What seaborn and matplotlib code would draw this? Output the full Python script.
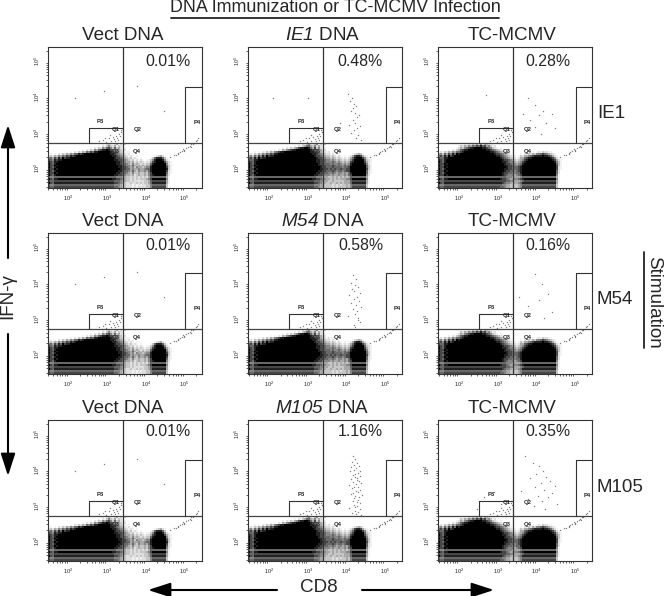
import pandas as pd
import seaborn as sb
import matplotlib
matplotlib.use('Agg')
import matplotlib.pyplot as plt

# density tables, area below the IFN-g gate (0 empty, 9 black)
VECT_TABLE = [
    "0000000000 0000000000 0000000102 3102402130 0000000000 0000000000 0000000000 0000000",
    "0000000000 0000000000 0000010213 5324132100 0000000000 0000000000 0000000000 0000000",
    "0000000000 0000000000 0102132546 7536342110 0000000000 0000000000 0000000000 0000000",
    "0000000000 0000000102 1325467889 8765443120 0000000000 0000000000 0000000000 0000000",
    "0000000000 0102132436 5768899999 9876543211 1000000000 0000000000 0000000000 0000000",
    "0101021324 3546687899 9999999999 9887654321 2010000000 0000000000 0000000000 0000000",
    "2324354657 6878999999 9999999999 9988765432 1210100000 0001234210 0000000000 0000000",
    "5647586978 8999999999 9999999999 9998776543 2312101000 0136888631 0000000000 0000000",
    "7658788999 9999999999 9999999999 9998877654 3231212101 1358999852 1000000000 0000000",
    "8768899999 9999999999 9999999999 9999887654 4342323212 2478999974 2100000000 0000000",
    "9768999999 9999999999 9999999999 9999887665 4353432323 3689999995 2100000000 0000000",
    "8779899999 9999999999 9999999999 9999988765 5464343434 4799999996 3110000000 0000000",
    "9768999999 9999999999 9999999999 9999988776 5453544345 5899999997 3100000000 0000000",
    "8779899999 9999999999 9999999999 9999998776 6454454456 6899999998 3100000000 0000000",
    "9768999999 9999999999 9999999999 9999988766 5464354454 6899999997 2100000000 0000000",
    "8779899999 9999999999 9999999999 9999887665 4353343343 5799999996 2100000000 0000000",
    "9768999999 9999999999 9999999999 9998877654 4342343343 5789999995 2000000000 0000000",
    "6556666666 6666666666 6666666666 6666555443 3232323232 4666666664 1000000000 0000000",
    "9768899999 9999999999 9999999999 9988776543 3232323334 5799999995 1000000000 0000000",
    "7667777777 7777777777 7777777777 7776665443 3232222233 4677777774 1000000000 0000000",
    "9768888888 8888888888 8888888888 8887765432 2322323233 4688888884 1000000000 0000000",
    "6556666666 6666666666 6666666666 6665554332 2212121223 3566666663 0000000000 0000000",
    "7667777777 7777777777 7777777777 7776654332 2212122223 3577777773 0000000000 0000000",
]
DNA_TABLE = [
    "0000000000 0000000000 0000010213 5213502130 0000000000 0000000000 0000000000 0000000",
    "0000000000 0000000000 0001021346 6435242100 0000000000 0000000000 0000000000 0000000",
    "0000000000 0000000102 1324578899 8647352110 0000000000 0000000000 0000000000 0000000",
    "0000000000 0101021435 6788999999 9876544220 0000000000 0000000000 0000000000 0000000",
    "0001010213 2435678899 9999999999 9887654321 2010000000 0000000000 0000000000 0000000",
    "1213243546 5768899999 9999999999 9988765432 2121010000 0012343100 0000000000 0000000",
    "4536475869 7889999999 9999999999 9998776543 3232121010 1247887421 0000000000 0000000",
    "6758697889 9999999999 9999999999 9999877654 4343232121 2468999752 1000000000 0000000",
    "7668899999 9999999999 9999999999 9999887765 5454343232 3579999963 2100000000 0000000",
    "8768999999 9999999999 9999999999 9999887765 5565454343 4789999974 2100000000 0000000",
    "9768999999 9999999999 9999999999 9999987766 6565565454 5899999985 2100000000 0000000",
    "8779899999 9999999999 9999999999 9999988776 6676565565 6899999996 3100000000 0000000",
    "9768999999 9999999999 9999999999 9999998776 6676666566 7999999996 3100000000 0000000",
    "8779899999 9999999999 9999999999 9999998877 6767667667 7999999997 3100000000 0000000",
    "9768999999 9999999999 9999999999 9999988776 6676566567 7999999996 2100000000 0000000",
    "8779899999 9999999999 9999999999 9999887766 5565455454 6899999996 2100000000 0000000",
    "9768999999 9999999999 9999999999 9998877655 5454454454 6799999995 2000000000 0000000",
    "6556666666 6666666666 6666666666 6666555444 3343434343 4666666664 1000000000 0000000",
    "9768899999 9999999999 9999999999 9988776554 4343434445 5799999995 1000000000 0000000",
    "7667777777 7777777777 7777777777 7776665544 3343333344 4677777774 1000000000 0000000",
    "9768888888 8888888888 8888888888 8887765443 3433434344 4688888884 1000000000 0000000",
    "6556666666 6666666666 6666666666 6665554433 3323232334 3566666663 0000000000 0000000",
    "7667777777 7777777777 7777777777 7776654433 3323233334 3577777773 0000000000 0000000",
]
TC_TABLE = [
    "0000000000 0001021324 2514321100 0000000000 0000000000 0000000000 0000000000 0000000",
    "0000000000 1324354657 6867453120 0000000000 0000000000 0000000000 0000000000 0000000",
    "0000000001 2435678899 9988765321 0100000000 0000000000 0000000000 0000000000 0000000",
    "0000010213 4678899999 9999887654 3210000000 0000000000 0000000000 0000000000 0000000",
    "1213243546 6789999999 9999998876 5432100000 0000000101 2132211000 0000000000 0000000",
    "4536475869 8999999999 9999999987 7654321000 0102132435 5676543210 0000000000 0000000",
    "6758697899 9999999999 9999999998 8765432110 1324456788 8898876421 0000000000 0000000",
    "7668899999 9999999999 9999999999 9876543221 2446788999 9999998752 1000000000 0000000",
    "8768999999 9999999999 9999999999 9987765432 3457899999 9999999874 2100000000 0000000",
    "9768999999 9999999999 9999999999 9988765543 4578999999 9999999985 3100000000 0000000",
    "8779899999 9999999999 9999999999 9998776554 5689999999 9999999996 3100000000 0000000",
    "9768999999 9999999999 9999999999 9998877655 6799999999 9999999997 3100000000 0000000",
    "8779899999 9999999999 9999999999 9999877666 7899999999 9999999997 2100000000 0000000",
    "9768999999 9999999999 9999999999 9998877666 7899999999 9999999997 2100000000 0000000",
    "8779899999 9999999999 9999999999 9998776656 7899999999 9999999996 2000000000 0000000",
    "9768999999 9999999999 9999999999 9987766556 6899999999 9999999996 2000000000 0000000",
    "8779899999 9999999999 9999999999 9987655545 6799999999 9999999995 1000000000 0000000",
    "6556666666 6666666666 6666666666 6666555444 4566666666 6666666664 1000000000 0000000",
    "9768899999 9999999999 9999999999 9877654455 6789999999 9999999995 1000000000 0000000",
    "7667777777 7777777777 7777777777 7777665544 4567777777 7777777774 1000000000 0000000",
    "9768888888 8888888888 8888888888 8876554344 5688888888 8888888884 1000000000 0000000",
    "6556666666 6666666666 6666666666 6655443333 4566666666 6666666663 0000000000 0000000",
    "7667777777 7777777777 7777777777 7665443333 4577777777 7777777773 0000000000 0000000",
]

# dots
Q1_X = [620, 780, 950, 1100, 1250, 1400, 1550, 1700, 1850, 2000, 2150, 2300, 900, 1200, 1600, 1950, 2250]
Q1_Y = [560, 610, 540, 680, 590, 760, 640, 820, 700, 900, 780, 1000, 720, 850, 560, 620, 1150]
TAIL_X = [42000, 52000, 60000, 68000, 76000, 85000, 92000, 100000, 112000, 125000, 138000, 150000, 165000, 180000, 195000, 210000, 230000, 70000, 98000, 145000]
TAIL_Y = [210, 240, 230, 270, 290, 300, 340, 330, 370, 400, 430, 470, 460, 520, 560, 610, 680, 250, 300, 390]

VECT_X = [150, 820, 6000, 30000]
VECT_Y = [9000, 15000, 20000, 4000]
IE1_X = [11000, 14000, 12500, 16000, 18000, 15000, 13000, 17000, 21000, 19000, 14500, 16500, 12000, 23000, 18500, 15500, 13500, 20000, 17500, 24000, 130, 1050, 7000]
IE1_Y = [12000, 9000, 7500, 6200, 5600, 4800, 4100, 3500, 3100, 2700, 2300, 1900, 1650, 1500, 1300, 1150, 950, 850, 720, 600, 9500, 9000, 1800]
M54_X = [15000, 18000, 13000, 17000, 20000, 14000, 16000, 22000, 12000, 19000, 15500, 21000, 13500, 17500, 24000, 14500, 18500, 16500, 11000, 20500, 19500, 23000, 16000, 17000]
M54_Y = [17000, 13000, 10000, 8800, 7700, 6600, 5900, 5200, 4500, 4000, 3500, 3100, 2700, 2400, 2100, 1800, 1600, 1350, 1200, 1050, 900, 780, 650, 570]
M105_X = [15000, 17000, 14000, 19000, 16000, 21000, 13000, 18000, 15500, 22000, 12500, 20000, 17000, 14500, 23000, 16500, 19000, 13500, 18500, 21500,
          15000, 24000, 17500, 12000, 20500, 16000, 14000, 22500, 18000, 19500, 15000, 13000, 25000, 17000, 21000, 16000, 20000, 14500, 18500, 23000,
          15500, 19000, 17000, 12000, 22000, 16500, 20000, 14000, 18000, 24000]
M105_Y = [24000, 20000, 17000, 15500, 14000, 13000, 12000, 11000, 10000, 9500, 9000, 8400, 7800, 7200, 6800, 6300, 5900, 5500, 5100, 4800,
          4500, 4200, 3900, 3700, 3400, 3200, 3000, 2800, 2600, 2450, 2300, 2150, 2000, 1850, 1700, 1600, 1450, 1350, 1250, 1150,
          1050, 980, 900, 830, 770, 720, 670, 620, 580, 540]
TC_IE1_X = [4500, 7000, 9000, 12000, 15000, 9500, 18000, 6000, 25000, 500, 13000, 30000]
TC_IE1_Y = [3200, 2200, 6000, 3000, 4000, 1400, 1800, 9000, 3300, 11000, 900, 1300]
TC_M54_X = [9000, 14000, 20000, 12000, 6000, 25000, 16000, 3500]
TC_M54_Y = [18000, 9000, 5000, 3300, 2200, 1500, 1000, 4000]
TC_M105_X = [5000, 8000, 12000, 15000, 10000, 18000, 7000, 22000, 13000, 30000, 9000, 16000, 4000, 25000, 11000, 20000, 6000, 14000, 35000, 8500, 17000, 300, 450, 800, 1200]
TC_M105_Y = [24000, 16000, 13000, 9000, 7500, 6500, 5800, 5000, 4200, 3600, 3200, 2800, 2500, 2200, 1900, 1700, 1500, 1300, 1100, 950, 800, 800, 1700, 2400, 1100]

COL_TITLES = [["Vect DNA", r"$\mathcal{IE1}$ DNA", "TC-MCMV"],
              ["Vect DNA", r"$\mathcal{M54}$ DNA", "TC-MCMV"],
              ["Vect DNA", r"$\mathcal{M105}$ DNA", "TC-MCMV"]]
PERCENTS = [["0.01%", "0.48%", "0.28%"],
            ["0.01%", "0.58%", "0.16%"],
            ["0.01%", "1.16%", "0.35%"]]
ROW_LABELS = ["IE1", "M54", "M105"]
TICKS = [100, 1000, 10000, 100000]
TICK_LABELS = ["$10^2$", "$10^3$", "$10^4$", "$10^5$"]

TABLES = [VECT_TABLE, DNA_TABLE, TC_TABLE]
DOTS = [[(VECT_X, VECT_Y), (IE1_X, IE1_Y), (TC_IE1_X, TC_IE1_Y)],
        [(VECT_X, VECT_Y), (M54_X, M54_Y), (TC_M54_X, TC_M54_Y)],
        [(VECT_X, VECT_Y), (M105_X, M105_Y), (TC_M105_X, TC_M105_Y)]]

W, H = 664, 596
LEFTS = [47.5, 248, 438]
TOPS = [47, 233, 420]
PW, PH = 154, 141
GATE_PX = 96
PCT_X = [167.5, 360.5, 547.5]
PCT_Y = [62, 245, 431]
TITLE_X = [123, 322.5, 512]
TITLE_Y = [36, 222, 408.5]
LABEL_Y = [114, 299, 487]

sb.set_style('white')
plt.rcParams['font.family'] = ['Liberation Sans', 'DejaVu Sans']
plt.rcParams['mathtext.fontset'] = 'custom'
plt.rcParams['mathtext.rm'] = 'Liberation Sans'
plt.rcParams['mathtext.it'] = 'Liberation Sans:italic'
plt.rcParams['mathtext.bf'] = 'Liberation Sans:bold'
plt.rcParams['mathtext.cal'] = 'Liberation Sans:italic'

fig = plt.figure(figsize=(W / 100, H / 100), dpi=100)
over = fig.add_axes([0, 0, 1, 1], zorder=5)
over.set_xlim(0, W)
over.set_ylim(H, 0)
over.axis('off')


def axes_at(x, y, w, h):
    return fig.add_axes([x / W, 1 - (y + h) / H, w / W, h / H])


for r in range(3):
    for c in range(3):
        # density below the gate
        rows = [[int(ch) for ch in row.replace(' ', '')] for row in TABLES[c]]
        bg = axes_at(LEFTS[c], TOPS[r] + GATE_PX, PW, PH - GATE_PX)
        sb.heatmap(pd.DataFrame(rows), ax=bg, cmap='Greys', vmin=0, vmax=9, cbar=False,
                   xticklabels=False, yticklabels=False)
        bg.axis('off')

        ax = axes_at(LEFTS[c], TOPS[r], PW, PH)
        ax.patch.set_alpha(0)
        ax.set_xscale('log')
        ax.set_yscale('log')
        ax.set_xlim(10 ** 1.458, 10 ** 5.44)
        ax.set_ylim(10 ** 1.44, 10 ** 5.40)

        for xs, ys in [(Q1_X, Q1_Y), (TAIL_X, TAIL_Y), DOTS[r][c]]:
            sb.scatterplot(x=xs, y=ys, ax=ax, color='black', s=1.0, linewidth=0, alpha=0.5)

        # quadrant and P3/P4 gates
        ax.axvline(2512, color='#333333', lw=0.9)
        ax.axhline(500, color='#444444', lw=0.9)
        ax.plot([335, 335, 2512], [500, 1334, 1334], color='#333333', lw=0.8)
        ax.plot([104000, 104000, 10 ** 5.44], [500, 19000, 19000], color='#333333', lw=0.8)
        for name, gx, gy in [('P3', 668, 2050), ('Q1', 1700, 1175), ('Q2', 6000, 1175),
                             ('Q3', 1700, 300), ('Q4', 6000, 300), ('P4', 210000, 1950)]:
            ax.text(gx, gy, name, fontsize=4.2, fontweight='bold', ha='center', va='center')

        ax.set_xticks(TICKS, TICK_LABELS)
        ax.set_yticks(TICKS, TICK_LABELS)
        ax.xaxis.set_minor_locator(matplotlib.ticker.LogLocator(10, subs=range(2, 10), numticks=12))
        ax.yaxis.set_minor_locator(matplotlib.ticker.LogLocator(10, subs=range(2, 10), numticks=12))
        ax.xaxis.set_minor_formatter(matplotlib.ticker.NullFormatter())
        ax.yaxis.set_minor_formatter(matplotlib.ticker.NullFormatter())
        ax.tick_params(which='major', length=3, width=0.7, labelsize=4, pad=1, color='#222222')
        ax.tick_params(which='minor', length=1.6, width=0.5, color='#222222', left=True, bottom=True)
        ax.tick_params(axis='y', labelrotation=90)
        for lab in ax.get_yticklabels():
            lab.set_va('center')
        for s in ax.spines.values():
            s.set_color('#333333')
            s.set_linewidth(0.8)

        over.text(TITLE_X[c], TITLE_Y[r], COL_TITLES[r][c], fontsize=13.6, ha='center', va='center')
        over.text(PCT_X[c], PCT_Y[r], PERCENTS[r][c], fontsize=11.4, ha='center', va='center')
    over.text(597, LABEL_Y[r], ROW_LABELS[r], fontsize=13.5, ha='left', va='center')

# header and side labels
over.text(335, 8, "DNA Immunization or TC-MCMV Infection", fontsize=12.9, ha='center', va='center')
over.plot([171, 499], [18, 18], color='#222222', lw=1.3)
over.text(654, 302, "Stimulation", fontsize=13.6, rotation=270, ha='center', va='center')
over.plot([644, 644], [252, 348], color='#222222', lw=1.3)
over.text(8, 296, "IFN-\u03b3", fontsize=13.5, rotation=90, ha='center', va='center')
over.text(319, 587, "CD8", fontsize=13.6, ha='center', va='center')

arrow = dict(arrowstyle='-|>,head_width=0.2,head_length=0.62', color='black', lw=1.5,
             mutation_scale=22, shrinkA=0, shrinkB=0)
over.annotate('', xy=(8, 125), xytext=(8, 258), arrowprops=arrow)
over.annotate('', xy=(8, 476), xytext=(8, 334), arrowprops=arrow)
over.annotate('', xy=(148, 590), xytext=(277, 590), arrowprops=arrow)
over.annotate('', xy=(494, 590), xytext=(362, 590), arrowprops=arrow)

fig.savefig('out.png', dpi=100)
